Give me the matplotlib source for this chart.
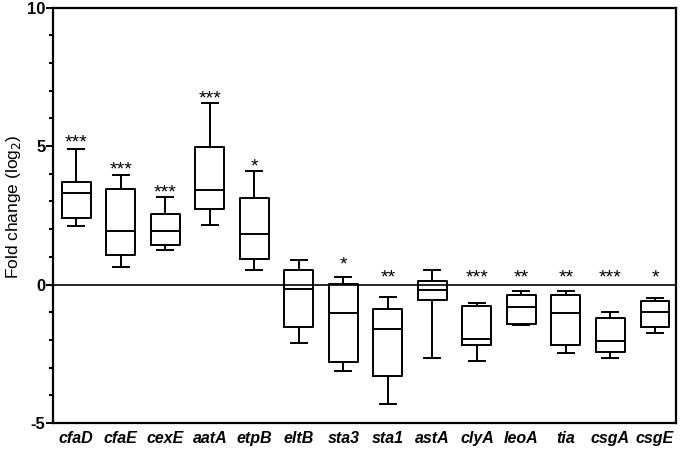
import matplotlib
matplotlib.use('Agg')
import matplotlib.pyplot as plt
from matplotlib.ticker import MultipleLocator, FixedLocator

plt.rcParams['font.family'] = ['Liberation Sans', 'DejaVu Sans']
plt.rcParams['axes.unicode_minus'] = False

genes = ['cfaD', 'cfaE', 'cexE', 'aatA', 'etpB', 'eltB', 'sta3',
         'sta1', 'astA', 'clyA', 'leoA', 'tia', 'csgA', 'csgE']

# box statistics (log2 fold change)
whisker_lo = [2.12, 0.64, 1.26, 2.14, 0.52, -2.10, -3.12,
              -4.30, -2.67, -2.77, -1.46, -2.49, -2.66, -1.74]
q1 = [2.39, 1.06, 1.44, 2.74, 0.93, -1.54, -2.80,
      -3.31, -0.54, -2.17, -1.41, -2.19, -2.44, -1.55]
median = [3.29, 1.94, 1.94, 3.42, 1.83, -0.16, -1.02,
          -1.60, -0.19, -1.96, -0.80, -1.02, -2.03, -0.99]
q3 = [3.72, 3.45, 2.55, 4.98, 3.13, 0.51, 0.03,
      -0.90, 0.12, -0.76, -0.37, -0.36, -1.20, -0.59]
whisker_hi = [4.91, 3.97, 3.15, 6.55, 4.10, 0.90, 0.27,
              -0.44, 0.53, -0.65, -0.25, -0.24, -0.99, -0.48]

stars = ['***', '***', '***', '***', '*', '', '*',
         '**', '', '***', '**', '**', '***', '*']
star_y = [5.34, 4.38, 3.54, 6.94, 4.50, 0, 0.93,
          0.48, 0, 0.48, 0.48, 0.48, 0.48, 0.48]

stats = []
for i, g in enumerate(genes):
    stats.append({'label': g, 'whislo': whisker_lo[i], 'q1': q1[i],
                  'med': median[i], 'q3': q3[i], 'whishi': whisker_hi[i],
                  'fliers': []})

fig = plt.figure(figsize=(6.8, 4.5), dpi=100)
ax = fig.add_axes([0.078, 0.06, 0.916, 0.923])

lw = 1.4
pos = list(range(len(genes)))
ax.bxp(stats, positions=pos, widths=0.65, capwidths=0.36, showfliers=False,
       boxprops=dict(color='black', linewidth=lw),
       medianprops=dict(color='black', linewidth=lw),
       whiskerprops=dict(color='black', linewidth=lw),
       capprops=dict(color='black', linewidth=lw))

ax.axhline(0, color='black', linewidth=1.2, zorder=0)

for i, s in enumerate(stars):
    if s:
        ax.annotate(s, (pos[i], star_y[i]), xytext=(0, -8),
                    textcoords='offset points', ha='center', va='baseline',
                    fontsize=14)

ax.set_xlim(-0.52, 13.47)
ax.set_ylim(-5, 10)
ax.yaxis.set_major_locator(FixedLocator([-5, 0, 5, 10]))
ax.yaxis.set_minor_locator(MultipleLocator(1))
ax.set_yticklabels(['-5', '0', '5', '10'], fontsize=12, fontweight='bold')
ax.set_xticks(pos)
ax.set_xticklabels(genes, fontsize=11.5, fontweight='bold', fontstyle='italic')

ax.tick_params(axis='x', length=0, pad=6)
ax.tick_params(axis='y', which='major', length=5, width=1.4, pad=0.5)
ax.tick_params(axis='y', which='minor', length=3, width=1.4)

for sp in ax.spines.values():
    sp.set_linewidth(1.6)

ax.set_ylabel('Fold change (log$_2$)', fontsize=12.5)
ax.yaxis.set_label_coords(-0.048, 0.52)

fig.savefig('out.png', dpi=100)
